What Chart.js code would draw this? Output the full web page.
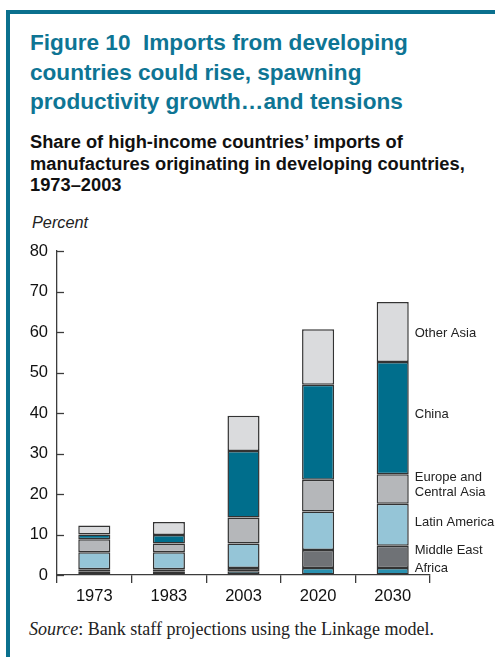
<!DOCTYPE html>
<html>
<head>
<meta charset="utf-8">
<script src="https://cdn.jsdelivr.net/npm/chart.js@4"></script>
<style>
  html, body { margin: 0; padding: 0; background: #fff; }
  #wrap { position: relative; width: 495px; height: 657px; overflow: hidden; background: #fff; }
  .frameTop { position: absolute; left: 6px; top: 10px; width: 489px; height: 4px; background: #0a708e; }
  .frameLeft { position: absolute; left: 6px; top: 10px; width: 4px; height: 647px; background: #0a708e; }
  .title { position: absolute; left: 30px; top: 28px; font: bold 22.6px "Liberation Sans", Arial, sans-serif; line-height: 29.5px; color: #0e7594; white-space: nowrap; }
  .sub { position: absolute; left: 30px; top: 131px; font: bold 18.3px "Liberation Sans", Arial, sans-serif; line-height: 21.5px; color: #111; white-space: nowrap; }
  .unit { position: absolute; left: 32px; top: 212px; font: italic 16.3px "Liberation Sans", Arial, sans-serif; line-height: 20px; color: #222; }
  .src { position: absolute; left: 29px; top: 619px; font: 18px "Liberation Serif", "Times New Roman", serif; line-height: 20px; color: #222; white-space: nowrap; }
  #cv { position: absolute; left: 0; top: 230px; }
</style>
</head>
<body>
<div id="wrap">
  <div class="frameTop"></div>
  <div class="frameLeft"></div>
  <div class="title">Figure 10&nbsp; Imports from developing<br>countries could rise, spawning<br>productivity growth…and tensions</div>
  <div class="sub">Share of high-income countries’ imports of<br>manufactures originating in developing countries,<br>1973–2003</div>
  <div class="unit">Percent</div>
  <div class="src"><i>Source</i>: Bank staff projections using the Linkage model.</div>
  <div id="cv"><canvas id="chart" width="495" height="395"></canvas></div>
</div>
<script>
// ---- Data ----
const years = ["1973", "1983", "2003", "2020", "2030"];
const africa      = [0.8, 0.8, 0.9, 1.7, 1.7];
const middleEast  = [0.6, 0.6, 0.8, 4.5, 5.5];
const latinAmerica= [4.2, 4.2, 6.1, 9.5, 10.4];
const europeCA    = [3.2, 2.2, 6.4, 7.8, 7.3];
const china       = [1.2, 2.1, 16.4, 23.5, 27.7];
const otherAsia   = [2.2, 3.2, 8.7, 13.7, 14.8];
const seriesNames = ["Africa", "Middle East", "Latin America", ["Europe and", "Central Asia"], "China", "Other Asia"];
const yTicks = [0, 10, 20, 30, 40, 50, 60, 70, 80];

const colors = ["#2a91b0", "#6f7276", "#95c5d7", "#b5b7ba", "#006e8c", "#dadbdd"];
const seriesData = [africa, middleEast, latinAmerica, europeCA, china, otherAsia];
const labelNudge = [-3, -7, -2, -4, -4, 1];

const axisColor = "#3c3c3c";
const fontFam = '"Liberation Sans", Arial, sans-serif';

const datasets = seriesData.map((d, i) => ({
  label: Array.isArray(seriesNames[i]) ? seriesNames[i].join(" ") : seriesNames[i],
  data: d,
  backgroundColor: colors[i],
  borderColor: "#333",
  borderWidth: 1.5,
  borderSkipped: false,
  categoryPercentage: 1.0,
  barPercentage: 0.43
}));

const extrasPlugin = {
  id: "extras",
  afterDraw(chart) {
    const ctx = chart.ctx;
    const y = chart.scales.y;
    const area = chart.chartArea;
    ctx.save();
    // inward y-axis tick marks
    ctx.strokeStyle = axisColor;
    ctx.lineWidth = 1.3;
    yTicks.forEach(v => {
      const py = Math.round(y.getPixelForValue(v)) + 0.5;
      ctx.beginPath();
      ctx.moveTo(area.left, py);
      ctx.lineTo(area.left + 7, py);
      ctx.stroke();
    });
    // series labels right of the last bar
    const last = years.length - 1;
    ctx.fillStyle = "#222";
    ctx.font = "13px " + fontFam;
    ctx.textBaseline = "middle";
    ctx.textAlign = "left";
    let cum = 0;
    seriesData.forEach((d, i) => {
      const lo = cum, hi = cum + d[last];
      cum = hi;
      const meta = chart.getDatasetMeta(i);
      const bar = meta.data[last];
      const x = bar.x + bar.width / 2 + 6;
      const py = y.getPixelForValue((lo + hi) / 2) + labelNudge[i];
      const name = seriesNames[i];
      if (Array.isArray(name)) {
        ctx.fillText(name[0], x, py - 7.5);
        ctx.fillText(name[1], x, py + 7.5);
      } else {
        ctx.fillText(name, x, py);
      }
    });
    ctx.restore();
  }
};

new Chart(document.getElementById("chart"), {
  type: "bar",
  data: { labels: years, datasets },
  options: {
    responsive: false,
    animation: false,
    layout: { padding: { top: 21, right: 65, bottom: 20, left: 0 } },
    plugins: { legend: { display: false }, tooltip: { enabled: false } },
    scales: {
      x: {
        stacked: true,
        offset: true,
        grid: { display: true, offset: true, drawOnChartArea: false, drawTicks: true, tickLength: 8, color: axisColor, lineWidth: 1.3 },
        border: { display: true, color: axisColor, width: 1.3 },
        ticks: { color: "#111", font: { family: fontFam, size: 16.5 }, padding: 4, maxRotation: 0 },
        afterFit(s) { s.height = 30; }
      },
      y: {
        stacked: true,
        min: 0, max: 80,
        afterBuildTicks(s) { s.ticks = yTicks.map(v => ({ value: v })); },
        grid: { display: true, drawOnChartArea: false, drawTicks: false },
        border: { display: true, color: axisColor, width: 1.3 },
        ticks: { color: "#111", font: { family: fontFam, size: 16.5 }, padding: 9 },
        afterFit(s) { s.width = 57; }
      }
    }
  },
  plugins: [extrasPlugin]
});
</script>
</body>
</html>
